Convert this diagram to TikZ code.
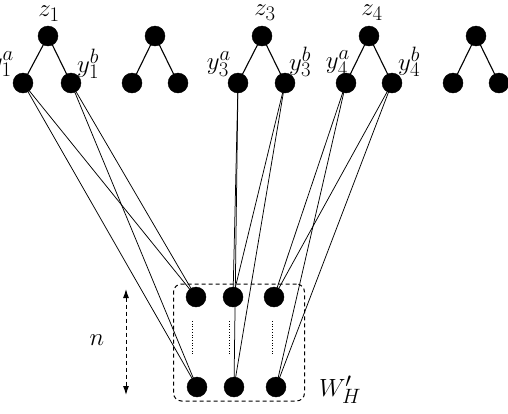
\documentclass[tikz,border=0pt]{standalone}
\usetikzlibrary{arrows.meta}
\begin{document}
\begin{tikzpicture}[x=1pt,y=-1pt,
  dot/.style={circle,fill=black,draw=black,minimum size=20pt,inner sep=0pt},
  lbl/.style={inner sep=0pt,font=\fontsize{29}{34}\selectfont},
  tree/.style={line width=1.1pt},
  link/.style={line width=0.75pt}]
\useasboundingbox (0,0) rectangle (508,413);
% top tree node coordinates
\coordinate (cz1) at (48,36);  \coordinate (cy1a) at (23,83);  \coordinate (cy1b) at (71,83);
\coordinate (ct2) at (155,36); \coordinate (ct2a) at (132,83); \coordinate (ct2b) at (178,83);
\coordinate (cz3) at (262,36); \coordinate (cy3a) at (238,83); \coordinate (cy3b) at (285,83);
\coordinate (cz4) at (369,36); \coordinate (cy4a) at (346,83); \coordinate (cy4b) at (392,83);
\coordinate (ct5) at (476,36); \coordinate (ct5a) at (453,83); \coordinate (ct5b) at (499,83);
% bottom nodes
\coordinate (cw11) at (196,297); \coordinate (cw21) at (233,297); \coordinate (cw31) at (274,297);
\coordinate (cw1n) at (197,387); \coordinate (cw2n) at (234,387); \coordinate (cw3n) at (276,387);
% labels
\node[lbl] (lz1) at (49,14) {$z_1$};
\node[lbl] (lz3) at (265,13) {$z_3$};
\node[lbl] (lz4) at (372,13) {$z_4$};
\node[lbl,anchor=east] (ly1a) at (14,64) {$y_1^a$};
\node[lbl,anchor=west] (ly1b) at (77,64) {$y_1^b$};
\node[lbl,anchor=east] (ly3a) at (231,64) {$y_3^a$};
\node[lbl,anchor=west] (ly3b) at (289,62) {$y_3^b$};
\node[lbl,anchor=east] (ly4a) at (350,63) {$y_4^a$};
\node[lbl,anchor=west] (ly4b) at (398,62) {$y_4^b$};
\node[lbl] (ln) at (97,340) {$n$};
\node[lbl] (lw) at (340,390) {$W'_H$};
% dashed box
\node[draw,dashed,dash pattern=on 4pt off 3pt,line width=1pt,rounded corners=8pt,minimum width=131pt,minimum height=117pt,inner sep=0pt] (box) at (239,342.5) {};
% n arrow
\coordinate (at) at (126,289);
\coordinate (ab) at (126,395);
\draw[dash pattern=on 4pt off 3pt,line width=1pt,{Latex[length=9pt,width=6pt]}-{Latex[length=9pt,width=6pt]}] (at) -- (ab);
% dotted column lines
\coordinate (d1t) at (192,321); \coordinate (d1b) at (192,356);
\coordinate (d2t) at (229,321); \coordinate (d2b) at (229,356);
\coordinate (d3t) at (272,321); \coordinate (d3b) at (272,356);
\draw[dotted,line width=0.7pt] (d1t) -- (d1b);
\draw[dotted,line width=0.7pt] (d2t) -- (d2b);
\draw[dotted,line width=0.7pt] (d3t) -- (d3b);
% tree edges
\foreach \r/\a/\b in {cz1/cy1a/cy1b, ct2/ct2a/ct2b, cz3/cy3a/cy3b, cz4/cy4a/cy4b, ct5/ct5a/ct5b}{
  \draw[tree] (\r) -- (\a);
  \draw[tree] (\r) -- (\b);
}
% links
\foreach \y/\t/\bt in {cy1a/cw11/cw1n, cy1b/cw11/cw1n, cy3a/cw21/cw2n, cy3b/cw21/cw2n, cy4a/cw31/cw3n, cy4b/cw31/cw3n}{
  \draw[link] (\y) -- (\t);
  \draw[link] (\y) -- (\bt);
}
% dots
\foreach \c in {cz1,cy1a,cy1b,ct2,ct2a,ct2b,cz3,cy3a,cy3b,cz4,cy4a,cy4b,ct5,ct5a,ct5b,cw11,cw21,cw31,cw1n,cw2n,cw3n}{
  \node[dot] (n\c) at (\c) {};
}
\end{tikzpicture}
\end{document}
